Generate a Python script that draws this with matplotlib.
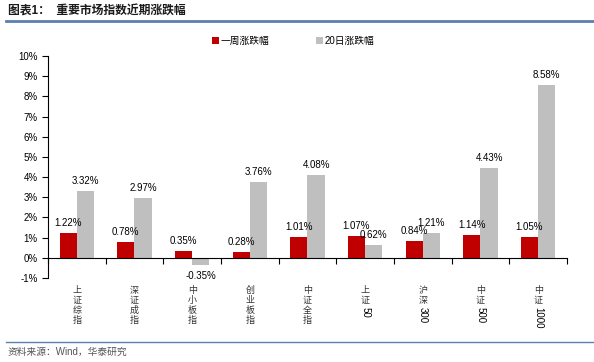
import matplotlib
matplotlib.use('Agg')
import matplotlib.pyplot as plt
import numpy as np
import re

plt.rcParams['font.family'] = ['Liberation Sans', 'Noto Sans CJK SC']

# 数据
categories = ['上证综指', '深证成指', '中小板指', '创业板指', '中证全指', '上证50', '沪深300', '中证500', '中证1000']
week_chg = [1.22, 0.78, 0.35, 0.28, 1.01, 1.07, 0.84, 1.14, 1.05]
day20_chg = [3.32, 2.97, -0.35, 3.76, 4.08, 0.62, 1.21, 4.43, 8.58]
yticks = list(range(-1, 11))

fig = plt.figure(figsize=(5.94, 3.62), dpi=100)
ax = fig.add_axes([0.0808, 0.232, 0.8737, 0.6133])

x = np.arange(len(categories))
w = 0.3
b1 = ax.bar(x - w / 2, week_chg, w, color='#C00000', label='一周涨跌幅')
b2 = ax.bar(x + w / 2, day20_chg, w, color='#BFBFBF', label='20日涨跌幅')

for bars, vals in [(b1, week_chg), (b2, day20_chg)]:
    for r, v in zip(bars, vals):
        cx = r.get_x() + r.get_width() / 2
        if v >= 0:
            ax.text(cx, v + 0.25, f'{v:.2f}%', ha='center', va='bottom', fontsize=7)
        else:
            ax.text(cx, v - 0.3, f'{v:.2f}%', ha='center', va='top', fontsize=7)

ax.set_xlim(-0.5, len(categories) - 0.5)
ax.set_ylim(-1, 10)
ax.set_yticks(yticks)
ax.set_yticklabels([f'{t}%' for t in yticks], fontsize=7)
ax.set_xticks(np.arange(len(categories) + 1) - 0.5)
ax.set_xticklabels([])
ax.tick_params(axis='both', direction='out', length=4, width=0.8)
ax.spines['top'].set_visible(False)
ax.spines['right'].set_visible(False)
ax.spines['bottom'].set_position(('data', 0))

# 竖排标签：汉字直立，数字旋转
step = 7.2   # pt
top = -5.8   # pt below -1%
for i, name in enumerate(categories):
    m = re.match(r'([^\x00-\x7f]*)(.*)', name)
    cjk, rest = m.group(1), m.group(2)
    for k, ch in enumerate(cjk):
        ax.annotate(ch, xy=(i, -1), xytext=(0, top - k * step), textcoords='offset points',
                    ha='center', va='top', fontsize=6.5, color='#333333',
                    annotation_clip=False)
    if rest:
        ax.annotate(rest, xy=(i, -1), xytext=(0, top - len(cjk) * step - 0.5),
                    textcoords='offset points', ha='center', va='top',
                    rotation=270, fontsize=7, annotation_clip=False)

fig.legend(loc='center', bbox_to_anchor=(0.494, 0.887), ncol=2, frameon=False,
           fontsize=7, handlelength=0.7, handleheight=0.7, handletextpad=0.2,
           columnspacing=4.8)

# 标题与来源
fig.text(0.013, 0.967, '图表1：  重要市场指数近期涨跌幅', fontsize=8.5, fontweight='bold',
         va='center', color='#1a1a1a')
fig.add_artist(plt.Line2D([0.01, 1.0], [0.942, 0.942], color='#5B7FAE', lw=2))
fig.add_artist(plt.Line2D([0.01, 1.0], [0.055, 0.055], color='#5B7FAE', lw=1))
fig.text(0.013, 0.027, '资料来源：Wind，华泰研究', fontsize=7, va='center', color='#555555')

plt.savefig('out.png', dpi=100)
